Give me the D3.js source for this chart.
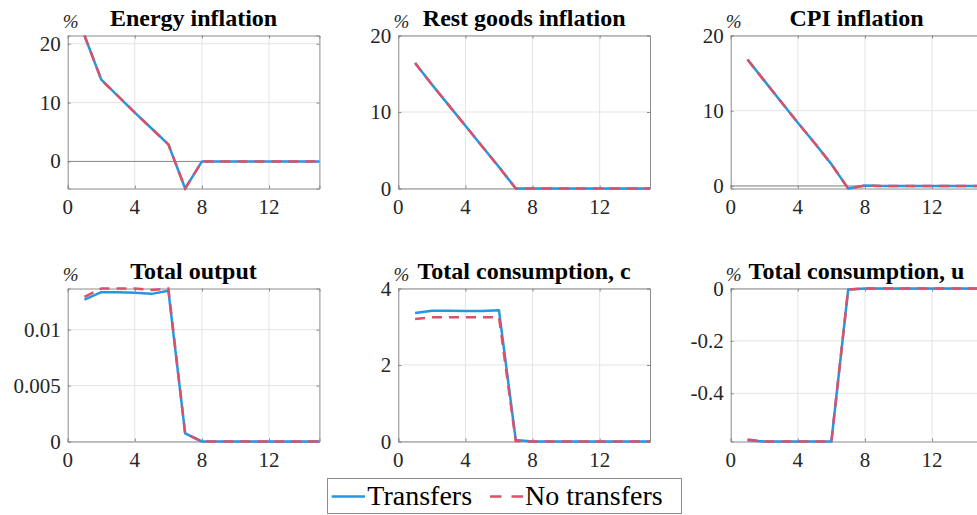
<!DOCTYPE html>
<html>
<head>
<meta charset="utf-8">
<script src="https://cdn.jsdelivr.net/npm/d3@7"></script>
</head>
<body style="margin:0">
<script>
// periods on the horizontal axis
var periods = [1, 2, 3, 4, 5, 6, 7, 8, 9, 10, 11, 12, 13, 14, 15];
var xTicks = [0, 4, 8, 12];

var titles = ['Energy inflation', 'Rest goods inflation', 'CPI inflation',
              'Total output', 'Total consumption, c', 'Total consumption, u'];

// series, one pair per panel
var energyT  = [21.4, 13.9, 11.1, 8.3, 5.6, 2.9, -4.6, 0, 0, 0, 0, 0, 0, 0, 0];
var energyN  = [21.4, 13.9, 11.1, 8.3, 5.6, 2.9, -4.6, 0, 0, 0, 0, 0, 0, 0, 0];
var restT    = [16.4, 13.6, 10.9, 8.2, 5.5, 2.8, 0, 0, 0, 0, 0, 0, 0, 0, 0];
var restN    = [16.4, 13.6, 10.9, 8.2, 5.5, 2.8, 0, 0, 0, 0, 0, 0, 0, 0, 0];
var cpiT     = [16.8, 14.0, 11.2, 8.4, 5.7, 2.9, -0.34, 0.05, 0, 0, 0, 0, 0, 0, 0];
var cpiN     = [16.8, 14.0, 11.2, 8.4, 5.7, 2.9, -0.34, 0.05, 0, 0, 0, 0, 0, 0, 0];
var outputT  = [0.01269, 0.01335, 0.01335, 0.0133, 0.0132, 0.01347, 0.00072, 0, 0, 0, 0, 0, 0, 0, 0];
var outputN  = [0.01293, 0.01368, 0.01368, 0.01368, 0.01355, 0.01368, 0.0007, 0, 0, 0, 0, 0, 0, 0, 0];
var consCT   = [3.36, 3.42, 3.42, 3.41, 3.41, 3.43, 0.04, 0, 0, 0, 0, 0, 0, 0, 0];
var consCN   = [3.2, 3.25, 3.25, 3.25, 3.25, 3.25, 0.01, 0, 0, 0, 0, 0, 0, 0, 0];
var consUT   = [-0.579, -0.584, -0.584, -0.584, -0.584, -0.584, -0.004, 0, 0, 0, 0, 0, 0, 0, 0];
var consUN   = [-0.576, -0.584, -0.584, -0.584, -0.584, -0.584, -0.004, 0, 0, 0, 0, 0, 0, 0, 0];

// axis limits and y ticks
var yLims  = [[-4.6, 21.4], [0, 20], [-0.34, 20], [0, 0.01368], [0, 4], [-0.584, 0]];
var yTicks = [[0, 10, 20], [0, 10, 20], [0, 10, 20], [0, 0.005, 0.01], [0, 2, 4], [-0.4, -0.2, 0]];

var legendLabels = ['Transfers', 'No transfers'];

var seriesT = [energyT, restT, cpiT, outputT, consCT, consUT];
var seriesN = [energyN, restN, cpiN, outputN, consCN, consUN];

var W = 977, H = 515;
var blue = '#2796e0', red = '#dc5068';
var font = "'Liberation Serif'";

var colLeft = [67.7, 398.3, 730.7];
var rowTop = [35.5, 288.5];
var pw = 251.7, ph = 153;

var svg = d3.select('body').append('svg').attr('width', W).attr('height', H);

// text with the string inside a tspan, font set on both
function label(sel, str, size) {
    var t = sel.append('text').attr('font-size', size).attr('font-family', font);
    t.append('tspan').attr('font-family', font).text(str);
    return t;
}

titles.forEach(function (title, i) {
    var col = i % 3, row = Math.floor(i / 3);
    var left = colLeft[col], top = rowTop[row];

    var x = d3.scaleLinear().domain([0, 15]).range([left, left + pw]);
    var y = d3.scaleLinear().domain(yLims[i]).range([top + ph, top]);

    var g = svg.append('g');

    // grid
    g.selectAll('line.gx').data(xTicks.slice(1)).enter().append('line')
        .attr('x1', x).attr('x2', x).attr('y1', top).attr('y2', top + ph)
        .attr('stroke', '#e4e4e4').attr('stroke-width', 1);
    g.selectAll('line.gy').data(yTicks[i]).enter().append('line')
        .attr('x1', left).attr('x2', left + pw).attr('y1', y).attr('y2', y)
        .attr('stroke', '#e4e4e4').attr('stroke-width', 1);

    // zero line
    if (yLims[i][0] < 0 && yLims[i][1] > 0) {
        g.append('line')
            .attr('x1', left).attr('x2', left + pw).attr('y1', y(0)).attr('y2', y(0))
            .attr('stroke', '#8a8a8a').attr('stroke-width', 1);
    }

    // axes with inward ticks, labels drawn separately
    g.append('g').attr('transform', 'translate(0,' + (top + ph) + ')')
        .call(d3.axisBottom(x).tickValues(xTicks).tickSize(-3).tickFormat(''));
    g.append('g').attr('transform', 'translate(' + left + ',0)')
        .call(d3.axisLeft(y).tickValues(yTicks[i]).tickSize(-3).tickFormat(''));
    g.append('g').attr('transform', 'translate(0,' + top + ')')
        .call(d3.axisTop(x).tickValues(xTicks).tickSize(-3).tickFormat(''));
    g.append('g').attr('transform', 'translate(' + (left + pw) + ',0)')
        .call(d3.axisRight(y).tickValues(yTicks[i]).tickSize(-3).tickFormat(''));
    g.selectAll('g').attr('font-family', null).attr('font-size', null);
    g.selectAll('.domain').attr('stroke', '#8a8a8a');
    g.selectAll('.tick line').attr('stroke', '#8a8a8a');

    xTicks.forEach(function (v) {
        label(g, String(v), 21).attr('x', x(v)).attr('y', top + ph + 25)
            .attr('text-anchor', 'middle').attr('fill', '#262626');
    });
    yTicks[i].forEach(function (v) {
        label(g, String(v), 21).attr('x', left - 7).attr('y', y(v) + 7)
            .attr('text-anchor', 'end').attr('fill', '#262626');
    });

    var line = d3.line()
        .x(function (d, k) { return x(periods[k]); })
        .y(function (d) { return y(d); });

    g.append('path').datum(seriesT[i]).attr('d', line)
        .attr('fill', 'none').attr('stroke', blue).attr('stroke-width', 2.5)
        .attr('stroke-linejoin', 'round');
    g.append('path').datum(seriesN[i]).attr('d', line)
        .attr('fill', 'none').attr('stroke', red).attr('stroke-width', 2.5)
        .attr('stroke-dasharray', '10,7');

    // title and unit label
    label(g, title, 24).attr('x', left + pw / 2).attr('y', top - 9.5)
        .attr('text-anchor', 'middle').attr('font-weight', 'bold').attr('fill', '#000');
    label(g, '%', 19).attr('x', left + 3).attr('y', top - 7.5)
        .attr('text-anchor', 'middle').attr('font-style', 'italic').attr('fill', '#262626');
});

// legend
var lg = svg.append('g');
lg.append('rect').attr('x', 327.5).attr('y', 478.5).attr('width', 354).attr('height', 35)
    .attr('fill', '#fff').attr('stroke', '#8a8a8a').attr('stroke-width', 1);
lg.append('line').attr('x1', 331.7).attr('x2', 365).attr('y1', 496.5).attr('y2', 496.5)
    .attr('stroke', blue).attr('stroke-width', 2.5);
lg.append('line').attr('x1', 490).attr('x2', 523.3).attr('y1', 496.5).attr('y2', 496.5)
    .attr('stroke', red).attr('stroke-width', 2.5).attr('stroke-dasharray', '11.5,10');
legendLabels.forEach(function (d, k) {
    label(lg, d, 28).attr('x', k === 0 ? 367.3 : 525).attr('y', 505).attr('fill', '#000');
});
</script>
</body>
</html>
